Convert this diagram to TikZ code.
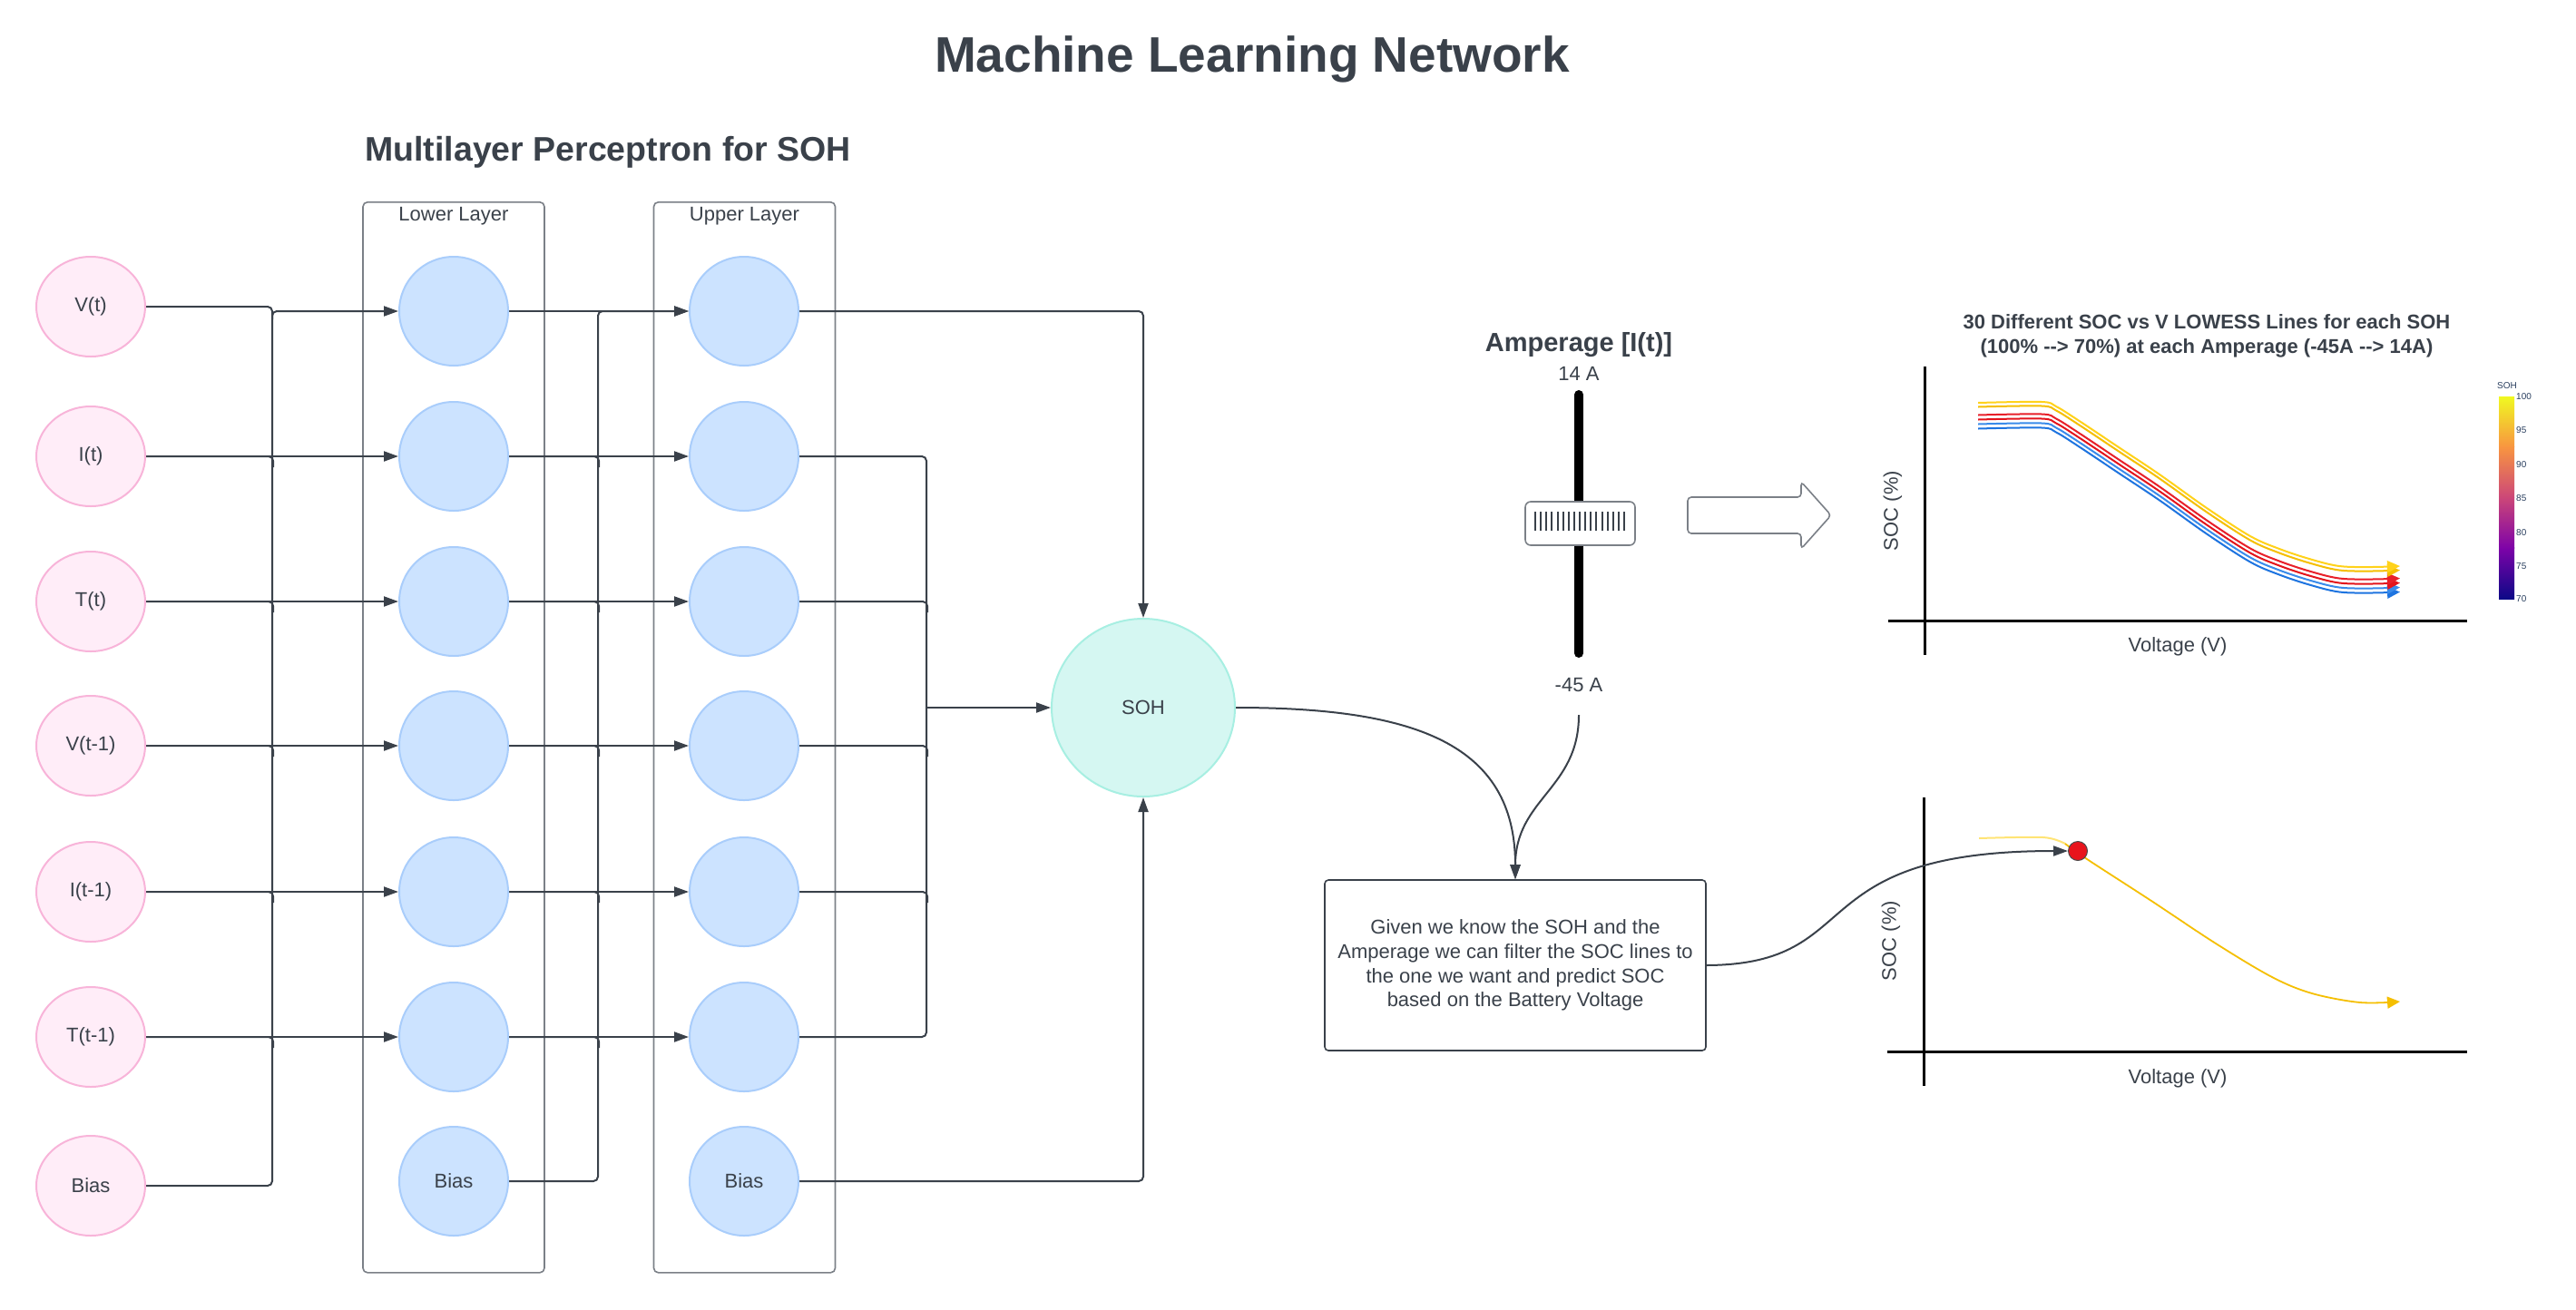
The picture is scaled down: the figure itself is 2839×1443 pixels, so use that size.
\documentclass[tikz,border=0pt]{standalone}
\usepackage{fontspec}
\setmainfont{Liberation Sans}[Ligatures=TeXOff]
\usetikzlibrary{shapes.geometric,arrows.meta}
\definecolor{txt}{HTML}{3A414A}
\definecolor{wireC}{HTML}{3A414A}
\definecolor{boxS}{HTML}{7B8087}
\definecolor{inpF}{HTML}{FFEDF8}
\definecolor{inpS}{HTML}{F8B4D9}
\definecolor{hidF}{HTML}{CCE3FF}
\definecolor{hidS}{HTML}{A9CDFB}
\definecolor{sohF}{HTML}{D5F7F2}
\definecolor{sohS}{HTML}{A7EFE2}
\definecolor{yA}{HTML}{FFD21A}
\definecolor{yB}{HTML}{F5BF00}
\definecolor{rA}{HTML}{E8202A}
\definecolor{rB}{HTML}{E3141C}
\definecolor{bA}{HTML}{3A8BEA}
\definecolor{bB}{HTML}{1E74E0}
\definecolor{pl0}{HTML}{0D0887}
\definecolor{pl1}{HTML}{7E03A8}
\definecolor{pl2}{HTML}{CC4778}
\definecolor{pl3}{HTML}{F89540}
\definecolor{pl4}{HTML}{F0F921}
\definecolor{cbtxt}{HTML}{2A3F5F}
\definecolor{reddot}{HTML}{E8141C}
\pgfdeclarelayer{back}
\pgfdeclarelayer{mid}
\pgfsetlayers{back,mid,main}
\begin{document}
\begin{tikzpicture}[x=1pt,y=-1pt,
  lab/.style={font=\fontsize{22}{26}\selectfont, text=txt},
  inp/.style={ellipse, draw=inpS, fill=inpF, line width=2pt, minimum width=120pt, minimum height=110pt, inner sep=0pt, lab},
  hid/.style={circle, draw=hidS, fill=hidF, line width=2pt, minimum size=120pt, inner sep=0pt, lab},
  layerbox/.style={draw=boxS, line width=1.6pt, rounded corners=5pt, minimum width=200pt, minimum height=1180pt, anchor=north, inner sep=0pt},
  wire/.style={draw=wireC, line width=2pt, rounded corners=5pt},
  awire/.style={wire, -{Triangle[length=16pt,width=11pt]}},
  axis/.style={draw=black, line width=3pt},
  tipc/.style={-{Triangle[length=14pt,width=13pt]}}
]
\useasboundingbox (0,0) rectangle (2839,1443);
\begin{pgfonlayer}{back}
\fill[white] (0,0) rectangle (2839,1443);
\end{pgfonlayer}

% titles
\node[font=\bfseries\fontsize{55}{66}\selectfont, text=txt] (title) at (1380,65) {Machine Learning Network};
\node[font=\bfseries\fontsize{37.5}{45}\selectfont, text=txt] (mlp) at (670,168) {Multilayer Perceptron for SOH};

% layer boxes
\begin{pgfonlayer}{back}
\node[layerbox] (lowbox) at (500,222) {};
\node[layerbox] (upbox) at (820.5,222) {};
\end{pgfonlayer}
\node[lab] (lowlab) at (500,238) {Lower Layer};
\node[lab] (uplab) at (820.5,238) {Upper Layer};

% inputs
\node[inp] (vt) at (100,338) {V(t)};
\node[inp] (it) at (100,503) {I(t)};
\node[inp] (tt) at (100,663) {T(t)};
\node[inp] (vt1) at (100,822) {V(t-1)};
\node[inp] (it1) at (100,983) {I(t-1)};
\node[inp] (tt1) at (100,1143) {T(t-1)};
\node[inp] (ib) at (100,1307) {Bias};

% hidden
\foreach \n/\y in {1/343,2/503,3/663,4/822,5/983,6/1143} {
  \node[hid] (l\n) at (500,\y) {};
  \node[hid] (u\n) at (820,\y) {};
}
\node[hid] (lb) at (500,1302) {Bias};
\node[hid] (ub) at (820,1302) {Bias};

% output
\node[ellipse, draw=sohS, fill=sohF, line width=2pt, minimum width=202pt, minimum height=196pt, inner sep=0pt, lab] (soh) at (1260,780) {SOH};
\coordinate (busR) at (1021,780);

\begin{pgfonlayer}{mid}
% input -> lower
\draw[wire] (vt.east) -- (300,338) -- (300,352);
\draw[awire] (ib.east) -- (300,1307) -- (300,343) -- (l1.west);
\foreach \a/\b in {it/l2, tt/l3, vt1/l4, it1/l5, tt1/l6} {
  \draw[awire] (\a.east) -- (\b.west);
  \draw[wire] (\a.east) -- ++(140,0) -- ++(0,12);
}
% lower -> upper
\foreach \n in {1,...,6} {\draw[awire] (l\n.east) -- (u\n.west);}
\foreach \n in {2,...,6} {\draw[wire] (l\n.east) -- ++(99,0) -- ++(0,12);}
\draw[awire] (lb.east) -- (659,1302) -- (659,343) -- (u1.west);
% upper -> SOH
\draw[awire] (u1.east) -- (1260,343) -- (soh.north);
\draw[wire] (u2.east) -- (1021,503) -- (1021,1143) -- (u6.east);
\foreach \n in {3,4,5} {\draw[wire] (u\n.east) -- ++(141,0) -- ++(0,12);}
\draw[awire] (busR) -- (soh.west);
\draw[awire] (ub.east) -- (1260,1302) -- (soh.south);
\end{pgfonlayer}

% amperage slider
\node[font=\bfseries\fontsize{29}{34}\selectfont, text=txt] (amp) at (1740,380) {Amperage [I(t)]};
\node[lab] (a14) at (1740,412) {14 A};
\draw[line width=10pt, line cap=round] (1740,435) -- (1740,720);
\node[draw=boxS, line width=1.6pt, fill=white, rounded corners=6pt, minimum width=121pt, minimum height=48pt, inner sep=0pt] (handle) at (1741.5,577) {};
\foreach \i in {0,...,16} {\draw[line width=2pt, draw=txt] (1692+\i*6.125,564) -- ++(0,21);}
\node[lab] (a45) at (1740,755) {-45 A};
\coordinate (a45b) at (1740,788);

% big arrow
\draw[draw=boxS, line width=1.6pt, fill=white, rounded corners=4pt] (1860,548) -- (1985,548) -- (1985,531) -- (2018,568) -- (1985,605) -- (1985,588) -- (1860,588) -- cycle;

% explanation box
\node[draw=txt, line width=1.6pt, rounded corners=4pt, minimum width=420pt, minimum height=188pt, align=center, inner sep=0pt, font=\fontsize{22}{26.7}\selectfont, text=txt] (given) at (1670,1064) {Given we know the SOH and the\\Amperage we can filter the SOC lines to\\the one we want and predict SOC\\based on the Battery Voltage};

\draw[wire, -{Triangle[length=16pt,width=11pt]}] (soh.east) .. controls (1560,780) and (1670,820) .. (given.north);
\draw[wire, -{Triangle[length=16pt,width=11pt]}] (a45b) .. controls (1740,870) and (1670,880) .. (given.north);

% top chart
\node[align=center, font=\bfseries\fontsize{22}{27}\selectfont, text=txt] (ctitle) at (2432,370) {30 Different SOC vs V LOWESS Lines for each SOH\\(100\% --> 70\%) at each Amperage (-45A --> 14A)};
\draw[axis] (2121,404) -- (2121,722);
\draw[axis] (2081,684) -- (2719,684);
\node[lab, rotate=90] (soc1) at (2086,563) {SOC (\%)};
\node[lab] (volt1) at (2400,713) {Voltage (V)};
\foreach \dy/\c in {28.5/bB,23.5/bA,18.5/rB,13.5/rA,4.5/yB,0/yA} {
  \draw[line width=2pt, draw=\c, tipc, shift={(0,\dy)}] plot[smooth, tension=0.55] coordinates {(2180,444) (2250,443) (2266,448) (2290,463) (2335,493) (2380,523) (2432,560) (2480,591) (2512,605) (2545,616) (2578,624) (2614,625) (2645,624)};
}
% colour bar
\shade[bottom color=pl0, top color=pl1] (2754,660) rectangle (2771,603.75);
\shade[bottom color=pl1, top color=pl2] (2754,604.25) rectangle (2771,548);
\shade[bottom color=pl2, top color=pl3] (2754,548.5) rectangle (2771,492.25);
\shade[bottom color=pl3, top color=pl4] (2754,492.75) rectangle (2771,437);
\node[font=\fontsize{10}{12}\selectfont, text=cbtxt] (cbt) at (2763,425) {SOH};
\foreach \v/\y in {100/437,95/474,90/512,85/549,80/587,75/624,70/660} {
  \node[font=\fontsize{10}{12}\selectfont, text=cbtxt, anchor=west, inner sep=0pt] at (2773,\y) {\v};
}

% bottom chart
\draw[axis] (2120,879) -- (2120,1197);
\draw[axis] (2080,1159) -- (2719,1159);
\node[lab, rotate=90] (soc2) at (2084,1037) {SOC (\%)};
\node[lab] (volt2) at (2400,1189) {Voltage (V)};
\draw[line width=2pt, draw=yA, opacity=0.6] plot[smooth] coordinates {(2181,924) (2252,923) (2276,930)};
\draw[line width=1.8pt, draw=yB, tipc] plot[smooth, tension=0.55] coordinates {(2276,930) (2300,947) (2371,993) (2442,1040) (2504,1077) (2548,1095) (2601,1105) (2645,1104)};
\node[circle, fill=reddot, draw=black!70, line width=1pt, minimum size=21pt, inner sep=0pt] (dot) at (2290,938) {};
\draw[wire, -{Triangle[length=16pt,width=11pt]}] (given.east) .. controls (2060,1063) and (1980,938) .. (dot.west);
\end{tikzpicture}
\end{document}
